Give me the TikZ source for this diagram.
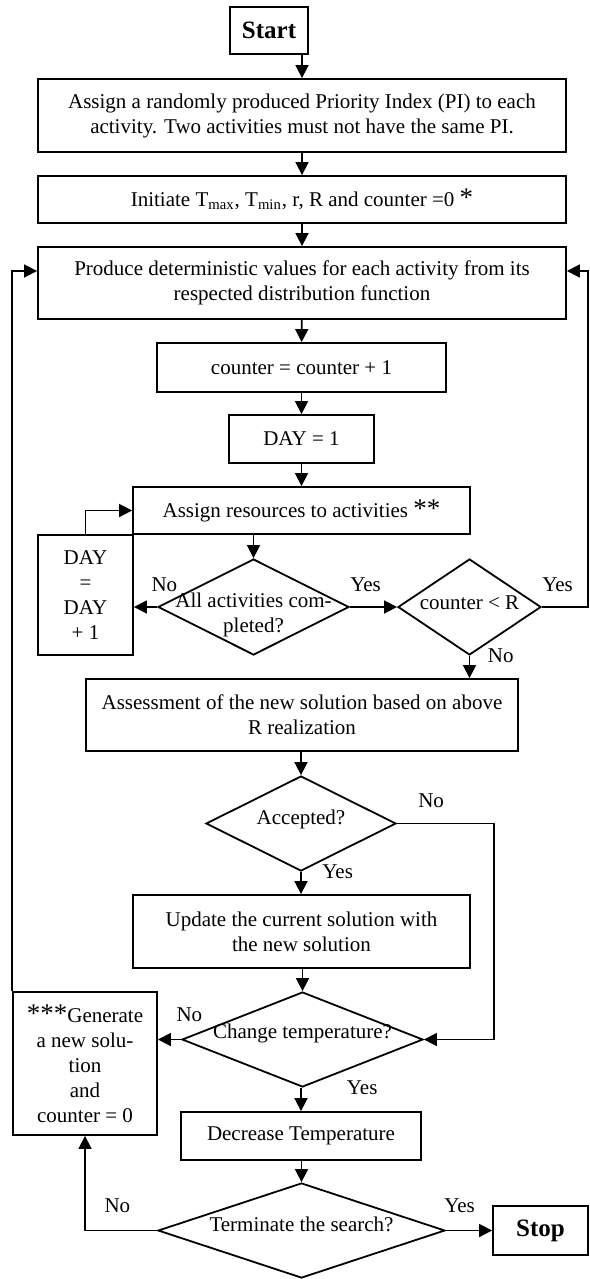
\documentclass[tikz,border=0pt]{standalone}
\usepackage{fontspec}
\setmainfont{Liberation Serif}
\usetikzlibrary{arrows.meta,shapes.geometric,calc,positioning}
\newcommand{\starmark}[1]{{\fontsize{13.5}{12.5}\selectfont #1}}

\begin{document}
\begin{tikzpicture}[
  x=0.5pt,y=-0.5pt,
  font=\fontsize{10.5}{12.5}\selectfont,
  procbox/.style={draw,line width=0.9pt,align=center,inner sep=2pt},
  endbox/.style={draw,line width=0.9pt,inner sep=2pt,font=\fontsize{12.5}{14}\selectfont\bfseries},
  decide/.style={draw,diamond,line width=0.9pt,inner sep=0pt},
  arr/.style={-{Triangle[length=6.5pt,width=6.5pt]},line width=0.8pt},
  lbl/.style={inner sep=0pt}
]
\useasboundingbox (0,0) rectangle (589,1279);
% ---------------- main column ----------------
\node[endbox,minimum width=39pt,minimum height=23.5pt] (start) at (269,30.5) {Start};
\node[procbox,minimum width=264pt,minimum height=36.5pt] (pi) at (302,115.5)
  {Assign a randomly produced Priority Index (PI) to each\\activity. Two activities must not have the same PI.};
\node[procbox,minimum width=264pt,minimum height=23.5pt] (init) at (302,199.5)
  {Initiate T\textsubscript{max}, T\textsubscript{min}, r, R and counter =0 \starmark{*}};
\node[procbox,minimum width=264pt,minimum height=36pt] (prod) at (302,283)
  {Produce deterministic values for each activity from its\\respected distribution function};
\node[procbox,minimum width=144.5pt,minimum height=24.5pt] (cnt) at (301.5,367.5) {counter = counter + 1};
\node[procbox,minimum width=72.5pt,minimum height=24pt] (day1) at (301.5,439) {DAY = 1};
\node[procbox,minimum width=168.5pt,minimum height=23.5pt] (res) at (301.5,510.5)
  {Assign resources to activities \starmark{**}};
\node[procbox,minimum width=47.5pt,minimum height=60pt] (dayinc) at (85.5,595) {DAY\\=\\DAY\\+ 1};
\node[decide,minimum width=95.5pt,minimum height=48pt,
  label={[align=center,yshift=-4pt]center:All activities com-\\pleted?}] (alldone) at (253.5,607) {};
\node[decide,minimum width=71.5pt,minimum height=48pt,
  label={[yshift=2pt]center:counter < R}] (cntR) at (469.5,607) {};
\node[procbox,minimum width=216pt,minimum height=36pt] (assess) at (302,715)
  {Assessment of the new solution based on above\\R realization};
\node[decide,minimum width=95pt,minimum height=47.5pt,
  label={[yshift=2pt]center:Accepted?}] (acc) at (301,823.5) {};
\node[procbox,minimum width=168.5pt,minimum height=36.5pt] (upd) at (301.5,931.5)
  {Update the current solution with\\the new solution};
\node[decide,minimum width=120.5pt,minimum height=47.5pt,
  label={[yshift=3pt]center:Change temperature?}] (chg) at (302.5,1039.5) {};
\node[procbox,minimum width=72pt,minimum height=71.5pt] (gen) at (85,1063.5)
  {\starmark{***}Generate\\a new solu-\\tion\\and\\counter = 0};
\node[procbox,minimum width=120pt,minimum height=24pt] (dec) at (301,1136) {Decrease Temperature};
\node[decide,minimum width=143.5pt,minimum height=47.5pt,
  label={[yshift=3pt]center:Terminate the search?}] (term) at (301.5,1230.5) {};
\node[endbox,minimum width=47.5pt,minimum height=24.5pt] (stop) at (540.5,1230.5) {Stop};
\coordinate (rrail) at (588,607);
% ---------------- connectors ----------------
\draw[arr] (start.south -| pi.north) -- (pi.north);
\draw[arr] (pi) -- (init);
\draw[arr] (init) -- (prod);
\draw[arr] (prod) -- (cnt);
\draw[arr] (cnt) -- (day1);
\draw[arr] (day1) -- (res);
\draw[arr] (res.south -| alldone.north) -- (alldone.north);
\draw[arr] (alldone.west) -- (alldone.west -| dayinc.east);
\draw[arr] (dayinc.north) |- (res.west);
\draw[arr] (alldone.east) -- (cntR.west);
\draw[arr] (cntR.east) -- (rrail) |- ([yshift=6pt]prod.east);
\draw[arr] (cntR.south) -- (cntR.south |- assess.north);
\draw[arr] (assess.south -| acc.north) -- (acc.north);
\draw[arr] (acc.south) -- (acc.south |- upd.north);
\draw[arr] (acc.east) -| ([xshift=35pt]chg.east) -- (chg.east);
\draw[arr] (upd.south -| chg.north) -- (chg.north);
\draw[arr] (chg.west) -- (chg.west -| gen.east);
\draw[arr] (chg.south -| dec.north) -- (dec.north);
\draw[arr] (dec.south -| term.north) -- (term.north);
\draw[arr] (term.west) -| (gen.south);
\draw[arr] (term.east) -- (term.east -| stop.west);
\draw[arr] (gen.north west) |- ([yshift=6pt]prod.west);
% ---------------- branch labels ----------------
\node[lbl,anchor=south west] (noA) at ([xshift=-3pt,yshift=7.5pt]alldone.west) {No};
\node[lbl,anchor=south west] (yesA) at ([yshift=7.5pt]alldone.east) {Yes};
\node[lbl,anchor=south west] (yesB) at ([yshift=7.5pt]cntR.east) {Yes};
\node[lbl,anchor=west] (noB) at ([xshift=9pt]cntR.south) {No};
\node[lbl,anchor=south west] (noC) at ([xshift=10.5pt,yshift=7.5pt]acc.east) {No};
\node[lbl,anchor=west] (yesC) at ([xshift=10.5pt]acc.south) {Yes};
\node[lbl,anchor=south west] (noD) at ([xshift=-2.5pt,yshift=8.5pt]chg.west) {No};
\node[lbl,anchor=west] (yesD) at ([xshift=22pt]chg.south) {Yes};
\node[lbl,anchor=south west] (noE) at ([xshift=-26.5pt,yshift=8.5pt]term.west) {No};
\node[lbl,anchor=south west] (yesE) at ([xshift=-1pt,yshift=8.5pt]term.east) {Yes};
\end{tikzpicture}
\end{document}
